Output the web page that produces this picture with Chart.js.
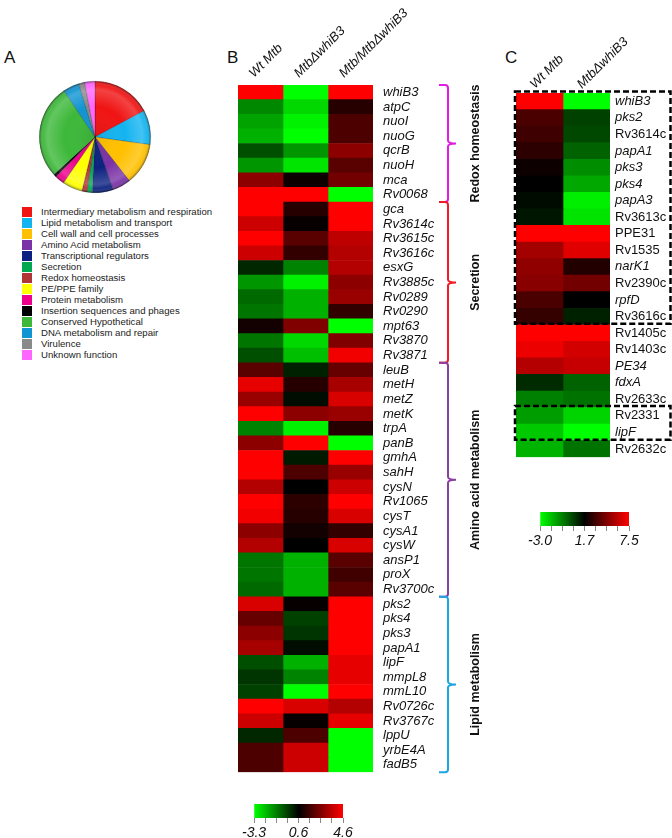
<!DOCTYPE html>
<html>
<head>
<meta charset="utf-8">
<script src="https://cdn.jsdelivr.net/npm/chart.js@4.4.1/dist/chart.umd.min.js"></script>
<style>
  html, body { margin:0; padding:0; background:#fff; }
  body { width:672px; height:838px; position:relative; overflow:hidden; font-family:"Liberation Sans", Arial, sans-serif; }
  canvas { position:absolute; }
  .letter { position:absolute; font-size:17px; line-height:17px; color:#111; }
  .lg { position:absolute; font-size:9.6px; line-height:11px; color:#222; white-space:nowrap; }
  .sw { position:absolute; width:10px; height:10px; }
</style>
</head>
<body>
<div class="letter" style="left:4px;top:49px;">A</div>
<div class="letter" style="left:227px;top:49px;">B</div>
<div class="letter" style="left:505px;top:49px;">C</div>
<canvas id="pie" width="120" height="120" style="left:35px;top:77px;"></canvas>
<div id="legend"></div>
<canvas id="heatB" width="270" height="790" style="left:230px;top:0px;"></canvas>
<canvas id="barB" width="115" height="40" style="left:240px;top:798px;"></canvas>
<canvas id="heatC" width="172" height="470" style="left:500px;top:0px;"></canvas>
<canvas id="barC" width="115" height="40" style="left:526px;top:506px;"></canvas>
<script>
// ---------- DATA ----------
const pieLabels = ['Intermediary metabolism and respiration','Lipid metabolism and transport','Cell wall and cell processes','Amino Acid metabolism','Transcriptional regulators','Secretion','Redox homeostasis','PE/PPE family','Protein metabolism','Insertion sequences and phages','Conserved Hypothetical','DNA metabolism and repair','Virulence','Unknown function'];
const pieValues = [17.2, 10.0, 12.2, 5.3, 6.1, 1.5, 1.5, 5.8, 2.8, 0.8, 27.4, 4.7, 1.7, 3.0];
const pieColors = ['#f01414','#14b4f0','#ffc000','#7a33a6','#0d2280','#00a84f','#b03636','#ffff00','#ec008c','#000000','#3db83a','#1194d2','#8a8a8a','#ff66ff'];

const geneB = ['whiB3','atpC','nuoI','nuoG','qcrB','nuoH','mca','Rv0068','gca','Rv3614c','Rv3615c','Rv3616c','esxG','Rv3885c','Rv0289','Rv0290','mpt63','Rv3870','Rv3871','leuB','metH','metZ','metK','trpA','panB','gmhA','sahH','cysN','Rv1065','cysT','cysA1','cysW','ansP1','proX','Rv3700c','pks2','pks4','pks3','papA1','lipF','mmpL8','mmL10','Rv0726c','Rv3767c','lppU','yrbE4A','fadB5'];
const wtB    = [4.6,-1.5,-1.9,-2.1,-0.6,-1.7,2.8,4.6,4.6,3.8,4.6,3.8,0.0,-1.7,-1.0,-1.2,0.9,-1.2,-0.6,2.0,4.2,3.0,4.6,-1.4,2.8,4.6,4.6,3.4,4.6,4.4,2.8,3.4,-1.2,-1.2,-1.0,4.0,2.2,2.8,3.2,-0.6,-0.2,-0.4,4.6,3.8,0.0,1.8,1.8];
const mutB   = [-3.3,-2.7,-3.1,-3.3,-1.7,-2.9,0.8,4.6,1.2,0.7,2.0,1.4,-1.4,-3.1,-2.1,-2.1,2.6,-2.7,-2.3,0.1,1.2,0.4,2.8,-3.1,4.6,0.2,1.8,0.6,1.3,1.2,0.9,0.6,-2.1,-2.1,-2.1,0.7,-0.4,-0.2,0.4,-2.1,-1.4,-3.3,4.0,0.7,1.8,3.8,3.8];
const ratioB = [4.6,1.2,1.8,1.8,2.8,2.0,2.4,-3.3,4.6,4.6,3.6,3.4,3.4,2.8,3.0,1.4,-3.3,2.6,4.4,2.2,3.2,4.0,3.0,1.2,-3.3,4.6,3.0,3.8,4.6,4.0,1.4,4.0,2.0,1.6,2.0,4.6,4.6,4.6,4.6,4.2,4.2,4.6,3.4,4.2,-3.3,-3.3,-3.3];
const colLabelsB = ['Wt Mtb','MtbΔwhiB3','Mtb/MtbΔwhiB3'];
const scaleB = [-3.3, 0.6, 4.6];
const barTicksB = ['-3.3','','','','0.6','','','','4.6'];

const groupNames = ['Redox homeostasis','Secretion','Amino acid metabolism','Lipid metabolism'];
const groupStart = [0, 8, 19, 35];
const groupEnd   = [7, 18, 34, 46];
const groupColors = ['#e11de1','#ee1c24','#8b3fa3','#1da6e2'];

const geneC = ['whiB3','pks2','Rv3614c','papA1','pks3','pks4','papA3','Rv3613c','PPE31','Rv1535','narK1','Rv2390c','rpfD','Rv3616c','Rv1405c','Rv1403c','PE34','fdxA','Rv2633c','Rv2331','lipF','Rv2632c'];
const italicC = [1,1,0,1,1,1,1,0,0,0,1,0,1,0,0,0,1,1,0,0,1,0];
const wtC  = [7.5,3.4,3.1,2.7,2.0,1.7,1.5,1.3,7.5,5.4,5.0,4.8,3.4,2.9,7.5,7.1,5.8,0.9,-0.65,-1.2,-2.0,-1.6];
const mutC = [-3.0,0.5,0.4,-0.1,-0.9,-1.4,-2.7,-2.5,7.5,6.8,2.5,4.3,1.7,1.1,7.5,6.5,6.2,-0.1,-0.4,-2.2,-3.0,-0.4];
const colLabelsC = ['Wt Mtb','MtbΔwhiB3'];
const scaleC = [-3.0, 1.7, 7.5];
const barTicksC = ['-3.0','','','','1.7','','','','7.5'];
const boxStartC = [0, 19];
const boxEndC   = [13, 20];

// ---------- HELPERS ----------
const FONT = '"Liberation Sans", Arial, sans-serif';
function heat(v, s) {
  const [lo, mid, hi] = s;
  if (v <= mid) {
    const t = Math.min(1, (mid - v) / (mid - lo));
    return 'rgb(0,' + Math.round(255 * t) + ',0)';
  }
  const t = Math.min(1, (v - mid) / (hi - mid));
  return 'rgb(' + Math.round(255 * t) + ',0,0)';
}

// ---------- LEGEND (A) ----------
const lgEl = document.getElementById('legend');
pieLabels.forEach((lab, i) => {
  const top = 206 + 11 * i;
  const sw = document.createElement('div');
  sw.className = 'sw'; sw.style.left = '22px'; sw.style.top = (top + 0.5) + 'px'; sw.style.background = pieColors[i];
  const tx = document.createElement('div');
  tx.className = 'lg'; tx.style.left = '41px'; tx.style.top = top + 'px'; tx.textContent = lab;
  lgEl.appendChild(sw); lgEl.appendChild(tx);
});

// ---------- PIE ----------
const pieShade = {
  id: 'pieShade',
  afterDatasetsDraw(chart) {
    const arc = chart.getDatasetMeta(0).data[0];
    if (!arc) return;
    const x = arc.x, y = arc.y, r = arc.outerRadius;
    const c = chart.ctx;
    c.save();
    c.beginPath(); c.arc(x, y, r, 0, Math.PI * 2); c.clip();
    const g = c.createRadialGradient(x, y, 0, x, y, r);
    g.addColorStop(0, 'rgba(0,0,0,0.08)');
    g.addColorStop(0.55, 'rgba(255,255,255,0.0)');
    g.addColorStop(0.85, 'rgba(255,255,255,0.2)');
    g.addColorStop(0.93, 'rgba(255,255,255,0.05)');
    g.addColorStop(1, 'rgba(0,0,0,0.4)');
    c.fillStyle = g;
    c.fillRect(x - r, y - r, 2 * r, 2 * r);
    c.restore();
  }
};
new Chart(document.getElementById('pie'), {
  type: 'pie',
  data: { labels: pieLabels, datasets: [{ data: pieValues, backgroundColor: pieColors, borderColor: 'rgba(0,0,0,0.35)', borderWidth: 0.6 }] },
  options: {
    responsive: false, animation: false,
    layout: { padding: 4 },
    plugins: { legend: { display: false }, tooltip: { enabled: false } }
  },
  plugins: [pieShade]
});

// ---------- HEATMAP B ----------
const bracketPlugin = {
  id: 'brackets',
  afterDraw(chart) {
    const ys = chart.scales.y;
    const n = geneB.length;
    const band = (chart.chartArea.bottom - chart.chartArea.top) / n;
    const c = chart.ctx;
    const x = 218;
    groupNames.forEach((name, gi) => {
      const y0 = ys.getPixelForValue(groupStart[gi]) - band / 2;
      const y1 = ys.getPixelForValue(groupEnd[gi]) + band / 2;
      const ym = (y0 + y1) / 2;
      c.save();
      c.strokeStyle = groupColors[gi];
      c.lineWidth = 2;
      c.beginPath();
      c.moveTo(x - 9, y0);
      c.lineTo(x - 3, y0);
      c.quadraticCurveTo(x, y0, x, y0 + 3);
      c.lineTo(x, ym - 3);
      c.quadraticCurveTo(x, ym, x + 8, ym);
      c.moveTo(x + 8, ym);
      c.quadraticCurveTo(x, ym, x, ym + 3);
      c.lineTo(x, y1 - 3);
      c.quadraticCurveTo(x, y1, x - 3, y1);
      c.lineTo(x - 9, y1);
      c.stroke();
      c.translate(246, ym);
      c.rotate(-Math.PI / 2);
      c.fillStyle = '#111';
      c.font = 'bold 12.5px ' + FONT;
      c.textAlign = 'center';
      c.textBaseline = 'middle';
      c.fillText(name, 0, 0);
      c.restore();
    });
  }
};

function heatDatasets(series, scale) {
  return series.map((vals, ci) => ({
    data: vals.map(() => [ci, ci + 1]),
    backgroundColor: vals.map(v => heat(v, scale)),
    borderWidth: 0,
    barPercentage: 1,
    categoryPercentage: 1,
    grouped: false
  }));
}

new Chart(document.getElementById('heatB'), {
  type: 'bar',
  data: { labels: geneB, datasets: heatDatasets([wtB, mutB, ratioB], scaleB) },
  options: {
    indexAxis: 'y', responsive: false, animation: false,
    layout: { padding: { left: 8, right: 0, top: 0, bottom: 12 } },
    plugins: { legend: { display: false }, tooltip: { enabled: false } },
    scales: {
      x: { type: 'linear', min: 0, max: 3, display: false },
      xh: {
        type: 'category', position: 'top', labels: colLabelsB, offset: true,
        grid: { display: false, drawTicks: false }, border: { display: false },
        ticks: { minRotation: 45, maxRotation: 45, autoSkip: false, padding: 4, labelOffset: 2, color: '#111',
                 font: { family: FONT, size: 13, style: 'italic' } },
        afterFit: s => { s.height = 85; }
      },
      y: {
        position: 'right',
        grid: { display: false, drawTicks: false }, border: { display: false },
        ticks: { autoSkip: false, padding: 10, color: '#111', font: { family: FONT, size: 13, style: 'italic' } },
        afterFit: s => { s.width = 127; }
      }
    }
  },
  plugins: [bracketPlugin]
});

// ---------- HEATMAP C ----------
const boxPlugin = {
  id: 'dashBoxes',
  afterDraw(chart) {
    const ys = chart.scales.y;
    const n = geneC.length;
    const band = (chart.chartArea.bottom - chart.chartArea.top) / n;
    const c = chart.ctx;
    c.save();
    c.strokeStyle = '#000';
    c.lineWidth = 2.5;
    c.setLineDash([6, 3]);
    boxStartC.forEach((s, i) => {
      const y0 = ys.getPixelForValue(s) - band / 2 - 1.5;
      const y1 = ys.getPixelForValue(boxEndC[i]) + band / 2 - 1;
      const x0 = chart.chartArea.left - 1;
      const x1 = chart.width - 1.5;
      c.strokeRect(x0, y0, x1 - x0, y1 - y0);
    });
    c.restore();
  }
};

new Chart(document.getElementById('heatC'), {
  type: 'bar',
  data: { labels: geneC, datasets: heatDatasets([wtC, mutC], scaleC) },
  options: {
    indexAxis: 'y', responsive: false, animation: false,
    layout: { padding: { left: 16, right: 0, top: 0, bottom: 11 } },
    plugins: { legend: { display: false }, tooltip: { enabled: false } },
    scales: {
      x: { type: 'linear', min: 0, max: 2, display: false },
      xh: {
        type: 'category', position: 'top', labels: colLabelsC, offset: true,
        grid: { display: false, drawTicks: false }, border: { display: false },
        ticks: { minRotation: 45, maxRotation: 45, autoSkip: false, padding: 1, labelOffset: 4, color: '#111',
                 font: { family: FONT, size: 13, style: 'italic' } },
        afterFit: s => { s.height = 93; }
      },
      y: {
        position: 'right',
        grid: { display: false, drawTicks: false }, border: { display: false },
        ticks: { autoSkip: false, padding: 5, color: '#111',
                 font: (ctx) => ({ family: FONT, size: 13, style: italicC[ctx.index] ? 'italic' : 'normal' }) },
        afterFit: s => { s.width = 62; }
      }
    }
  },
  plugins: [boxPlugin]
});

// ---------- COLOUR BARS ----------
function colorbar(id, tickLabels) {
  new Chart(document.getElementById(id), {
    type: 'bar',
    data: { labels: ['scale'], datasets: [{
      data: [[0, tickLabels.length - 1]],
      backgroundColor: (ctx) => {
        const ca = ctx.chart.chartArea;
        if (!ca) return '#000';
        const g = ctx.chart.ctx.createLinearGradient(ca.left, 0, ca.right, 0);
        g.addColorStop(0, '#00ff00'); g.addColorStop(0.5, '#000000'); g.addColorStop(1, '#ff0000');
        return g;
      },
      borderWidth: 0, barPercentage: 1, categoryPercentage: 1
    }] },
    options: {
      indexAxis: 'y', responsive: false, animation: false,
      layout: { padding: { left: 12, right: 12, top: 6, bottom: 0 } },
      plugins: { legend: { display: false }, tooltip: { enabled: false } },
      scales: {
        x: { type: 'linear', min: 0, max: tickLabels.length - 1,
             ticks: { stepSize: 1, autoSkip: false, maxRotation: 0, padding: 2, color: '#111',
                      callback: (v, i) => tickLabels[i], font: { family: FONT, size: 14, style: 'italic' } },
             grid: { drawOnChartArea: false, drawTicks: true, tickLength: 5, color: '#888' },
             border: { display: false },
             afterFit: s => { s.height = 20; } },
        y: { display: false }
      }
    }
  });
}
colorbar('barB', barTicksB);
colorbar('barC', barTicksC);
</script>
</body>
</html>
